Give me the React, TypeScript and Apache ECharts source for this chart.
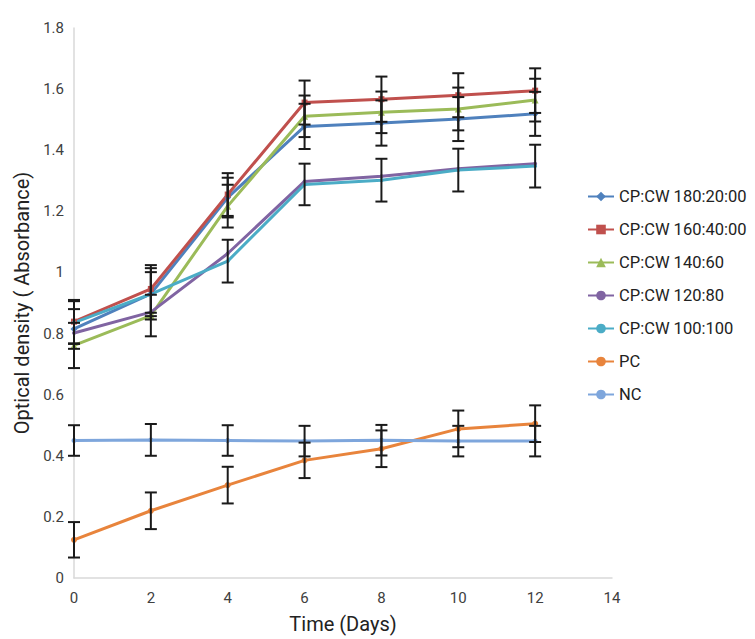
import React, { useEffect, useRef } from "react";
import * as echarts from "echarts";

// Sampling days
const days = [0, 2, 4, 6, 8, 10, 12];

// Mean optical density per treatment
const cp180 = [0.815, 0.93, 1.245, 1.478, 1.489, 1.502, 1.519];
const cp160 = [0.839, 0.946, 1.255, 1.556, 1.567, 1.58, 1.595];
const cp140 = [0.761, 0.859, 1.217, 1.511, 1.524, 1.535, 1.564];
const cp120 = [0.802, 0.87, 1.062, 1.298, 1.315, 1.339, 1.356];
const cp100 = [0.836, 0.929, 1.037, 1.288, 1.302, 1.335, 1.348];
const pc = [0.125, 0.22, 0.304, 0.385, 0.423, 0.488, 0.505];
const nc = [0.45, 0.452, 0.45, 0.448, 0.451, 0.448, 0.448];

// Error bar half-widths (null = no bar drawn)
const err180 = [0.065, 0.084, 0.065, 0.074, 0.074, 0.072, 0.072];
const err160 = [0.071, 0.078, 0.07, 0.072, 0.074, 0.072, 0.073];
const err140 = [0.074, 0.068, 0.07, 0.068, 0.068, 0.07, 0.07];
const err120: (number | null)[] = [null, null, null, null, null, null, null];
const err100 = [0.07, 0.072, 0.07, 0.068, 0.07, 0.07, 0.07];
const errPc = [0.058, 0.06, 0.06, 0.058, 0.06, 0.06, 0.06];
const errNc = [0.05, 0.052, 0.05, 0.05, 0.05, 0.05, 0.05];

const yTicks = [0, 0.2, 0.4, 0.6, 0.8, 1, 1.2, 1.4, 1.6, 1.8];

const seriesDefs = [
  { name: "CP:CW 180:20:00", values: cp180, errors: err180, color: "#4F81BD", symbol: "diamond", size: 7 },
  { name: "CP:CW 160:40:00", values: cp160, errors: err160, color: "#C0504D", symbol: "rect", size: 6 },
  { name: "CP:CW 140:60", values: cp140, errors: err140, color: "#9BBB59", symbol: "triangle", size: 7 },
  { name: "CP:CW 120:80", values: cp120, errors: err120, color: "#8064A2", symbol: "circle", size: 4 },
  { name: "CP:CW 100:100", values: cp100, errors: err100, color: "#4BACC6", symbol: "circle", size: 4 },
  { name: "PC", values: pc, errors: errPc, color: "#E8843C", symbol: "circle", size: 6 },
  { name: "NC", values: nc, errors: errNc, color: "#7EA6DC", symbol: "circle", size: 5 },
];

const FONT = "Roboto, 'Noto Sans', sans-serif";

export default function App() {
  const ref = useRef<HTMLDivElement>(null);

  useEffect(() => {
    if (!ref.current) return;
    const chart = echarts.init(ref.current, null, { renderer: "svg" });

    const lineSeries = seriesDefs.map((s) => ({
      name: s.name,
      type: "line",
      data: days.map((d, i) => [d, s.values[i]]),
      symbol: s.symbol,
      symbolSize: s.size,
      showSymbol: true,
      lineStyle: { color: s.color, width: 3 },
      itemStyle: { color: s.color },
      z: 2,
    }));

    const errorSeries = seriesDefs.map((s) => ({
      name: s.name + " error",
      type: "custom",
      z: 5,
      silent: true,
      data: days
        .map((d, i) => [d, s.values[i], s.errors[i]])
        .filter((p) => p[2] != null),
      renderItem: (_params: any, api: any) => {
        const x = api.value(0);
        const y = api.value(1);
        const e = api.value(2);
        const top = api.coord([x, y + e]);
        const bot = api.coord([x, y - e]);
        const half = 6;
        const style = { stroke: "#1a1a1a", lineWidth: 2 };
        return {
          type: "group",
          children: [
            { type: "line", shape: { x1: top[0], y1: top[1], x2: bot[0], y2: bot[1] }, style },
            { type: "line", shape: { x1: top[0] - half, y1: top[1], x2: top[0] + half, y2: top[1] }, style },
            { type: "line", shape: { x1: bot[0] - half, y1: bot[1], x2: bot[0] + half, y2: bot[1] }, style },
          ],
        };
      },
    }));

    chart.setOption({
      animation: false,
      backgroundColor: "#ffffff",
      textStyle: { fontFamily: FONT },
      grid: { left: 74, right: 143, top: 28, bottom: 53, containLabel: false },
      legend: {
        orient: "vertical",
        left: 582,
        top: 183,
        itemWidth: 26,
        itemHeight: 12,
        itemGap: 16,
        data: seriesDefs.map((s) => s.name),
        textStyle: { fontFamily: FONT, fontSize: 16.5, color: "#222" },
      },
      xAxis: {
        type: "value",
        min: 0,
        max: 14,
        interval: 2,
        name: "Time (Days)",
        nameLocation: "middle",
        nameGap: 36,
        nameTextStyle: { fontFamily: FONT, fontSize: 20, color: "#222" },
        axisLine: { show: true, lineStyle: { color: "#d9d9d9", width: 1.5 } },
        axisTick: { show: false },
        splitLine: { show: false },
        axisLabel: { fontFamily: FONT, fontSize: 15, color: "#404040", margin: 12 },
      },
      yAxis: {
        type: "value",
        min: 0,
        max: 1.8,
        interval: 0.2,
        name: "Optical density ( Absorbance)",
        nameLocation: "middle",
        nameGap: 42,
        nameTextStyle: { fontFamily: FONT, fontSize: 20, color: "#222" },
        axisLine: { show: true, lineStyle: { color: "#d9d9d9", width: 1.5 } },
        axisTick: { show: false },
        splitLine: { show: false },
        axisLabel: {
          fontFamily: FONT,
          fontSize: 15,
          color: "#404040",
          margin: 10,
          formatter: (v: number) => {
            const t = yTicks.find((k) => Math.abs(k - v) < 1e-6);
            return String(t ?? +v.toFixed(1));
          },
        },
      },
      series: [...lineSeries, ...errorSeries],
    });

    return () => chart.dispose();
  }, []);

  return <div ref={ref} style={{ width: 755, height: 639, position: "absolute", left: 0, top: 0 }} />;
}
